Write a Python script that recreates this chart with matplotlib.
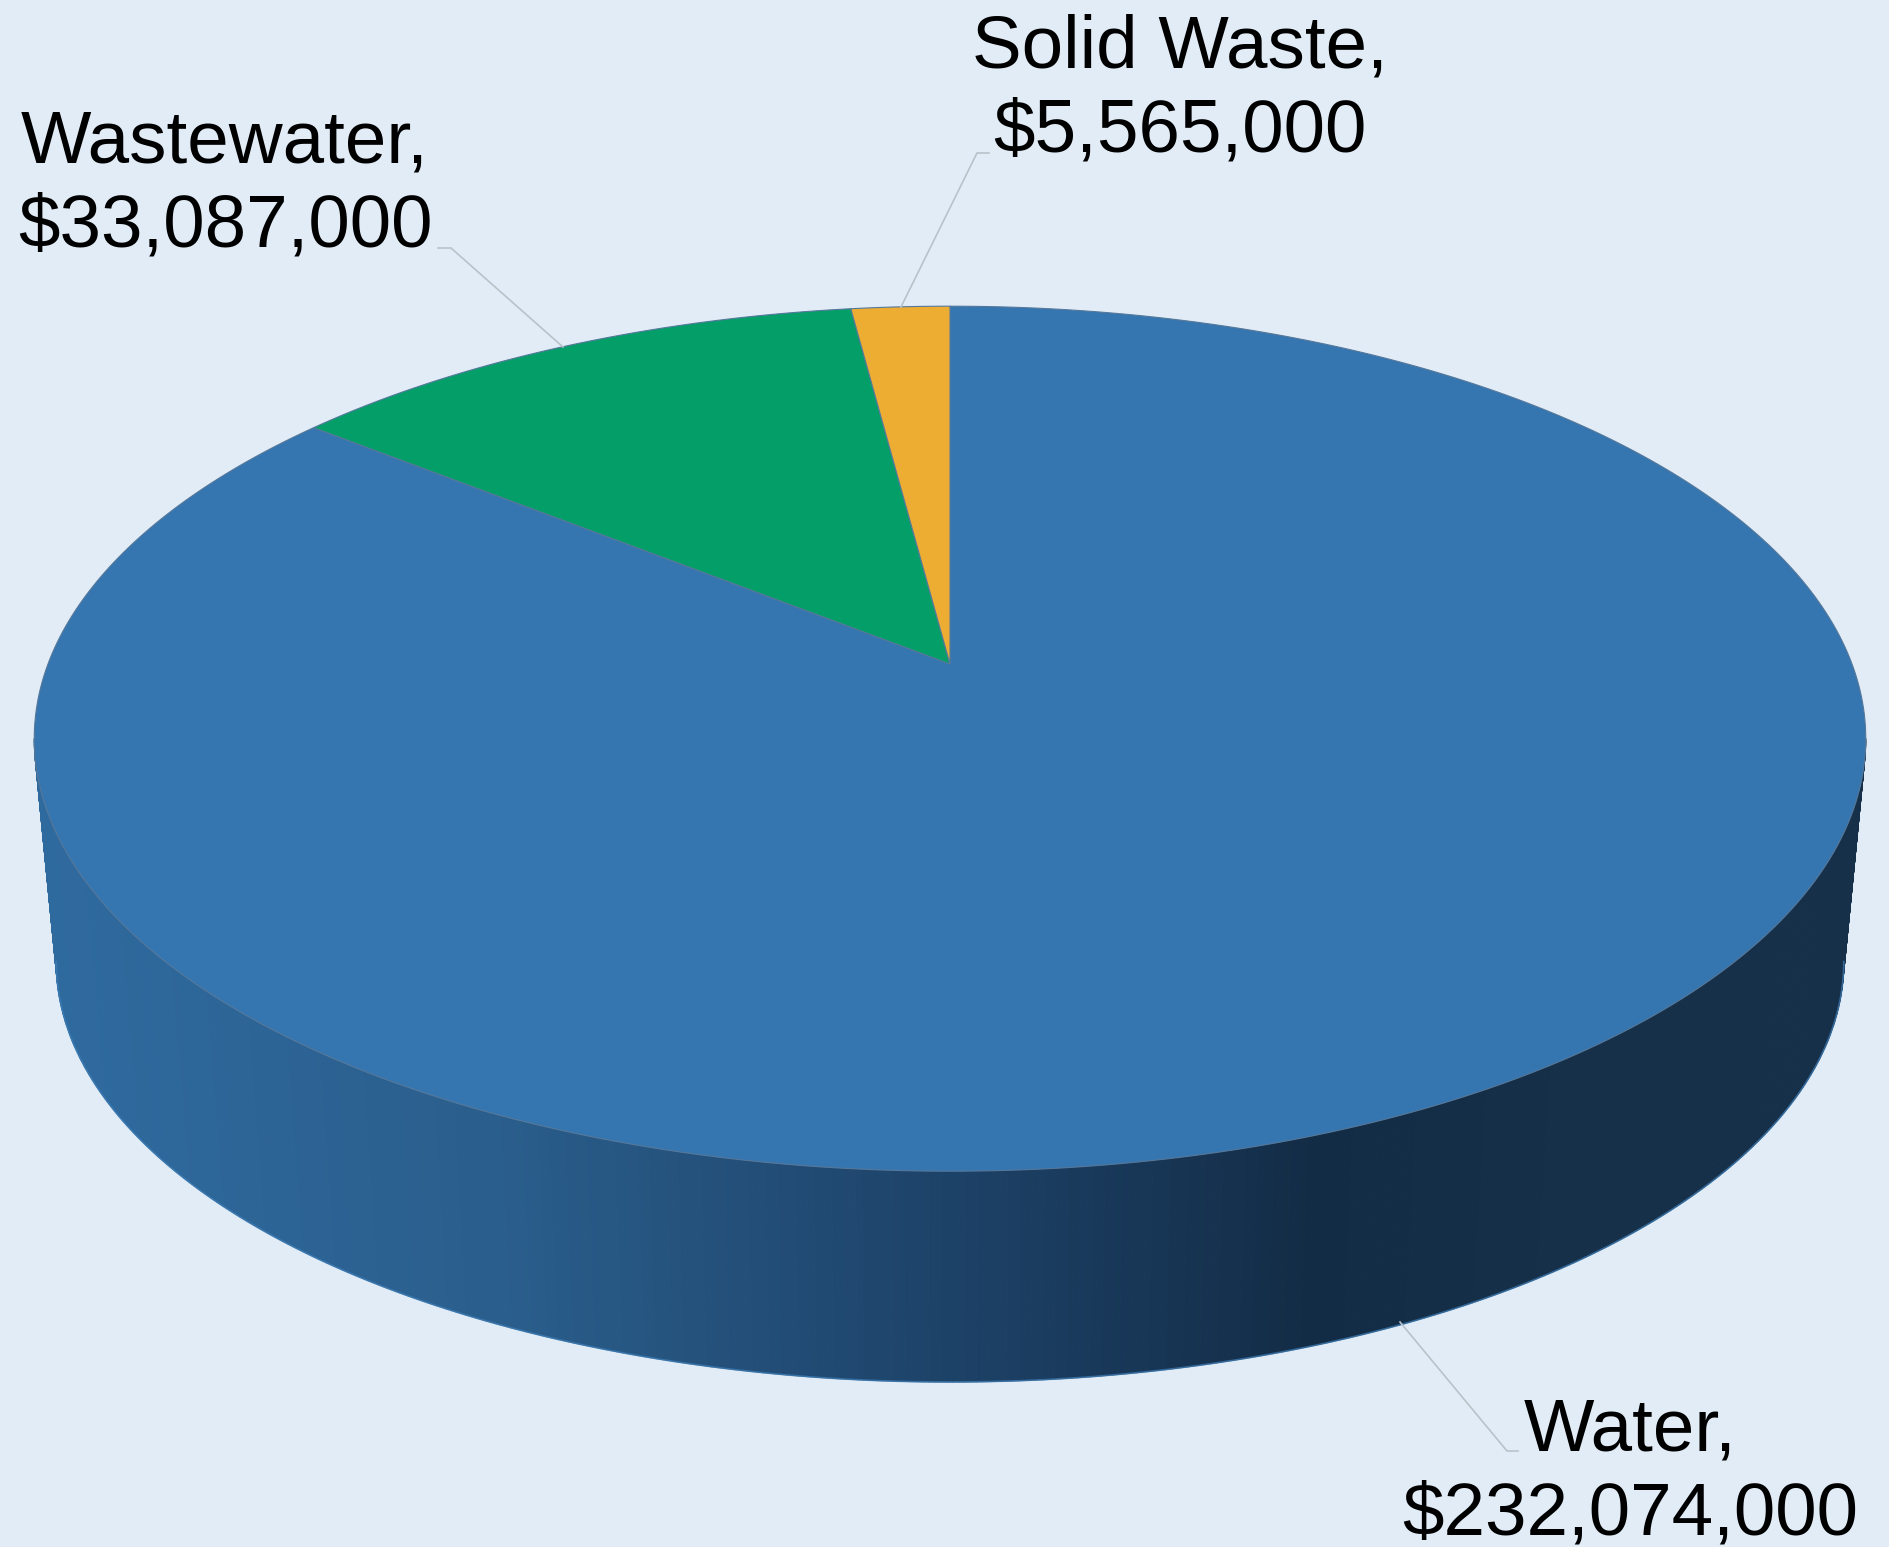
# -*- coding: utf-8 -*-
# plot.py
import numpy as np
import matplotlib.pyplot as plt
from matplotlib.colors import LinearSegmentedColormap
from matplotlib.patches import Polygon

## data, clockwise from twelve o'clock
categories = ['Water', 'Wastewater', 'Solid Waste']
values = [232074000, 33087000, 5565000]
colors = ['#3575B0', '#049E69', '#EDAD33']

W, H = 1889, 1547
BG = '#E1ECF6'

## perspective of the disc, in pixels
CX, CY = 950, 664
XS, YS, K = 902.0, 419.6, 0.1727
BOTTOM_DY, BOTTOM_SX, BOTTOM_SY = 225.0, 0.976, 0.972

wall_cmap = LinearSegmentedColormap.from_list('wall', [
    (0.00, '#2F6A9F'), (0.25, '#2A5E8C'), (0.50, '#1D4268'),
    (0.70, '#132C46'), (0.85, '#16304A'), (1.00, '#17304A'),
])


def project(theta, dy=0.0, sx=1.0, sy=1.0):
    """
    theta is clockwise from the top of the disc
    """
    u, v = np.sin(theta), np.cos(theta)
    d = 1 + K * v
    return CX + sx * XS * u / d, CY + dy - sy * YS * v / d


def draw_wall(ax):
    ## only the part of the rim below the widest points of the disc is seen
    widest = np.degrees(np.arccos(-K))
    th = np.radians(np.linspace(widest, 360 - widest, 500))
    xt, yt = project(th)
    xb, yb = project(th, BOTTOM_DY, BOTTOM_SX, BOTTOM_SY)
    xmin, xmax = xb.min(), xb.max()
    for i in range(len(th) - 1):
        pts = [(xt[i], yt[i]), (xt[i + 1], yt[i + 1]),
               (xb[i + 1], yb[i + 1]), (xb[i], yb[i])]
        c = wall_cmap((0.5 * (xb[i] + xb[i + 1]) - xmin) / (xmax - xmin))
        ax.add_patch(Polygon(pts, closed=True, fc=c, ec=c, lw=0.8))
    ## thin lighter rim along the base
    ax.plot(xb, yb, color='#3F7FB8', lw=1.2, alpha=0.7)


def draw_top(ax):
    fracs = np.cumsum([0] + values) / np.sum(values)
    for i in range(len(values)):
        th = 2 * np.pi * np.linspace(fracs[i], fracs[i + 1], 400)
        x, y = project(th)
        pts = np.column_stack([np.r_[CX, x], np.r_[CY, y]])
        ax.add_patch(Polygon(pts, closed=True, fc=colors[i], ec='#55789A', lw=0.8))


fig = plt.figure(figsize=(W / 100, H / 100), dpi=100, facecolor=BG)
ax = fig.add_axes([0, 0, 1, 1])
ax.set_xlim(0, W)
ax.set_ylim(H, 0)
ax.axis('off')

draw_wall(ax)
draw_top(ax)

## leader lines
leaders = [
    ([1400, 1507, 1518], [1322, 1451, 1451]),
    ([563, 451, 438], [347, 248, 248]),
    ([901, 977, 989], [307, 153, 153]),
]
for lx, ly in leaders:
    ax.plot(lx, ly, color='#B9C2C8', lw=1.2)

## labels
label_pos = [(1630, 1473), (225, 185), (1180, 90)]
for name, val, (tx, ty) in zip(categories, values, label_pos):
    ax.text(tx, ty, '%s,\n$%s' % (name, format(val, ',')), ha='center', va='center',
            fontsize=53.7, family='Liberation Sans', color='black', linespacing=1.27)

plt.savefig('out.png', dpi=100, facecolor=BG)
